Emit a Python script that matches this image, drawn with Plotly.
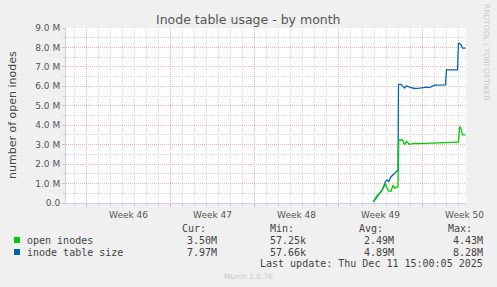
import plotly.graph_objects as go

# ---- data ----
blue_t = ["2025-12-03 22:00", "2025-12-04 04:00", "2025-12-04 10:00", "2025-12-04 16:00",
          "2025-12-04 22:00", "2025-12-05 01:00", "2025-12-05 04:30", "2025-12-05 09:00",
          "2025-12-05 16:00", "2025-12-05 21:00", "2025-12-05 23:00", "2025-12-06 00:00",
          "2025-12-06 05:00", "2025-12-06 12:00", "2025-12-06 16:00", "2025-12-06 22:00",
          "2025-12-07 08:00", "2025-12-07 18:00", "2025-12-08 08:00", "2025-12-08 14:00",
          "2025-12-09 00:00", "2025-12-09 22:00", "2025-12-10 00:00", "2025-12-10 22:00",
          "2025-12-11 00:00", "2025-12-11 05:00", "2025-12-11 08:00", "2025-12-11 14:00"]
blue_v = [0.06, 0.33, 0.50, 0.70, 1.10, 1.19, 1.10, 1.35, 1.52, 1.66, 1.70, 6.10,
          6.10, 5.91, 6.03, 5.96, 5.89, 5.91, 5.96, 5.93, 6.06, 6.08, 6.85, 6.85,
          8.23, 8.14, 7.97, 7.97]

green_t = ["2025-12-03 22:00", "2025-12-04 04:00", "2025-12-04 10:00", "2025-12-04 16:00",
           "2025-12-04 22:00", "2025-12-05 01:00", "2025-12-05 04:00", "2025-12-05 09:00",
           "2025-12-05 13:00", "2025-12-05 16:00", "2025-12-05 19:00", "2025-12-05 23:00",
           "2025-12-06 00:30", "2025-12-06 08:00", "2025-12-06 12:00", "2025-12-06 16:00",
           "2025-12-06 22:00", "2025-12-07 08:00", "2025-12-07 18:00", "2025-12-09 00:00",
           "2025-12-09 22:00", "2025-12-10 20:00", "2025-12-11 00:00", "2025-12-11 02:00",
           "2025-12-11 04:00", "2025-12-11 08:00", "2025-12-11 14:00"]
green_v = [0.06, 0.30, 0.48, 0.70, 0.98, 0.78, 0.62, 0.60, 0.92, 0.75, 0.80, 0.84,
           3.24, 3.24, 2.99, 3.16, 3.02, 3.07, 3.05, 3.10, 3.10, 3.13, 3.13, 3.90,
           3.90, 3.50, 3.50]

y_tickvals = [0, 1, 2, 3, 4, 5, 6, 7, 8, 9]
y_ticktext = ["0.0", "1.0 M", "2.0 M", "3.0 M", "4.0 M", "5.0 M", "6.0 M", "7.0 M", "8.0 M", "9.0 M"]

series_names = ["open inodes", "inode table size"]
series_colors = ["#00cc00", "#0066b3"]
cur_vals = ["3.50M", "7.97M"]
min_vals = ["57.25k", "57.66k"]
avg_vals = ["2.49M", "4.89M"]
max_vals = ["4.43M", "8.28M"]

# ---- layout geometry (pixels) ----
W, H = 497, 287
L, R, T, B = 66, 466, 28, 203

def px(x):
    return (x - L) / (R - L)

def py(y):
    return (B - y) / (B - T)

fig = go.Figure()
fig.add_trace(go.Scatter(x=blue_t, y=blue_v, mode="lines",
                         line=dict(color=series_colors[1], width=1.3), showlegend=False))
fig.add_trace(go.Scatter(x=green_t, y=green_v, mode="lines",
                         line=dict(color=series_colors[0], width=1.3), showlegend=False))

tick_font = dict(family="DejaVu Sans", size=9, color="#555555")
DAY = 86400000
MAJ = "#eeb0b0"
MIN = "#d6d6d6"
DASH = "1px,1px"

fig.update_xaxes(
    type="date",
    range=["2025-11-08 07:00", "2025-12-11 15:00"],
    tick0="2025-11-10", dtick=7 * DAY,
    tickformat="Week %V", ticklabelmode="period",
    showgrid=True, gridcolor=MAJ, griddash=DASH, gridwidth=1,
    ticks="outside", ticklen=3, tickcolor=MAJ,
    minor=dict(dtick=DAY, showgrid=True, gridcolor=MIN, griddash=DASH,
               ticks="outside", ticklen=2, tickcolor="#cccccc"),
    showline=True, linecolor="#ccccff", linewidth=1,
    zeroline=False, tickfont=tick_font, fixedrange=True,
)
fig.update_yaxes(
    range=[0, 9],
    tickvals=y_tickvals, ticktext=y_ticktext,
    showgrid=True, gridcolor=MAJ, griddash=DASH, gridwidth=1,
    ticks="outside", ticklen=3, tickcolor=MAJ,
    minor=dict(dtick=0.5, showgrid=True, gridcolor=MIN, griddash=DASH,
               ticks="outside", ticklen=2, tickcolor="#cccccc"),
    showline=True, linecolor="#ccccff", linewidth=1,
    zeroline=False, tickfont=tick_font, fixedrange=True,
)

ann = []
ann.append(dict(text="Inode table usage - by month", x=px(248), y=py(19),
                font=dict(family="DejaVu Sans", size=12.5, color="#555555")))
ann.append(dict(text="number of open inodes", x=px(12), y=py(115), textangle=-90,
                font=dict(family="DejaVu Sans", size=11, color="#444444")))
ann.append(dict(text="RRDTOOL / TOBI OETIKER", x=px(487), y=py(52), textangle=90,
                font=dict(family="DejaVu Sans", size=7.5, color="#c8c8c8")))

mono = dict(family="DejaVu Sans Mono", size=10, color="#444444")
hdr_y = 228
row_y = [240, 252]
ann.append(dict(text="Cur:", x=px(181), y=py(hdr_y), xanchor="left", font=mono))
ann.append(dict(text="Min:", x=px(269), y=py(hdr_y), xanchor="left", font=mono))
ann.append(dict(text="Avg:", x=px(358), y=py(hdr_y), xanchor="left", font=mono))
ann.append(dict(text="Max:", x=px(447), y=py(hdr_y), xanchor="left", font=mono))

shapes = []
for i in range(2):
    yy = row_y[i]
    ann.append(dict(text=series_names[i], x=px(26), y=py(yy), xanchor="left", font=mono))
    ann.append(dict(text=cur_vals[i], x=px(218), y=py(yy), xanchor="right", font=mono))
    ann.append(dict(text=min_vals[i], x=px(269), y=py(yy), xanchor="left", font=mono))
    ann.append(dict(text=avg_vals[i], x=px(395), y=py(yy), xanchor="right", font=mono))
    ann.append(dict(text=max_vals[i], x=px(484), y=py(yy), xanchor="right", font=mono))
    shapes.append(dict(type="rect", xref="paper", yref="paper",
                       x0=px(14), x1=px(20), y0=py(yy + 3), y1=py(yy - 3),
                       fillcolor=series_colors[i], line=dict(width=0)))

ann.append(dict(text="Last update: Thu Dec 11 15:00:05 2025", x=px(484), y=py(263),
                xanchor="right", font=mono))
ann.append(dict(text="Munin 2.0.76", x=px(248), y=py(276),
                font=dict(family="DejaVu Sans", size=7.5, color="#c8c8c8")))

for a in ann:
    a.setdefault("xanchor", "center")
    a.update(xref="paper", yref="paper", yanchor="middle", showarrow=False, borderpad=0)

fig.update_layout(
    width=W, height=H,
    margin=dict(l=L, r=W - R, t=T, b=H - B, pad=0),
    paper_bgcolor="#f0f0f0", plot_bgcolor="#ffffff",
    annotations=ann, shapes=shapes, showlegend=False,
)

fig.write_html("out.html", config={"displayModeBar": False})
